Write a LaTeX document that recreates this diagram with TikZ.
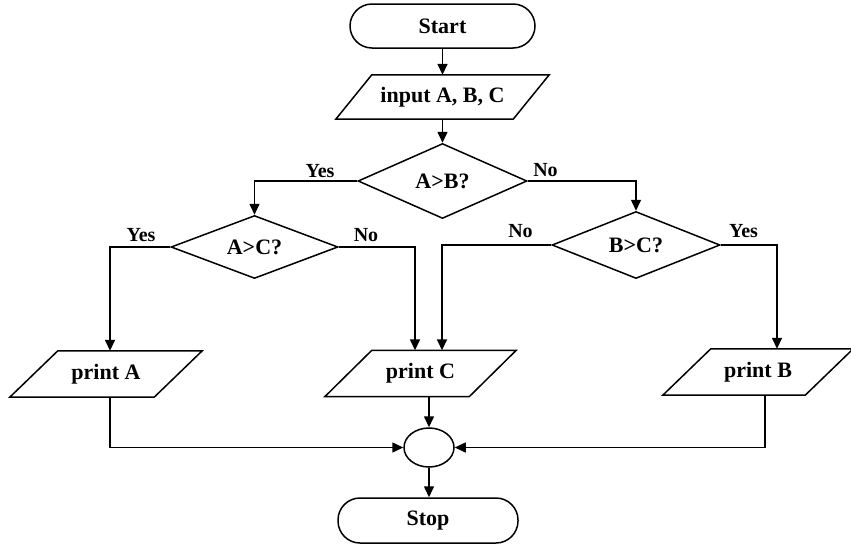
\documentclass[tikz,border=0pt]{standalone}
\usepackage{fontspec}
\setmainfont{Liberation Serif}
\usetikzlibrary{shapes.geometric, arrows.meta}

\begin{document}
\begin{tikzpicture}[x=1pt, y=-1pt,
  outline/.style={draw=black, line width=1.5pt},
  txt/.style={font=\bfseries\fontsize{22}{26}\selectfont, inner sep=0pt},
  term/.style={txt, outline, rectangle, rounded corners=22pt},
  decision/.style={txt, outline, diamond, aspect=2.2},
  io/.style={txt, rectangle},
  merge/.style={outline, ellipse, inner sep=0pt, minimum width=50pt, minimum height=39pt},
  lbl/.style={font=\bfseries\fontsize{20}{24}\selectfont, inner sep=0pt, anchor=base},
  flow/.style={line width=1.5pt, -{Triangle[length=11pt, width=10pt]}},
  link/.style={line width=1.5pt}
]
\useasboundingbox (0,0) rectangle (851,544);

% terminals
\node[term, minimum width=185pt, minimum height=44pt] (start) at (442.5,26) {Start};
\node[term, minimum width=180pt, minimum height=45pt] (stop) at (428,520.5) {Stop};

% input / output boxes (body only; slanted outline drawn below)
\node[io, minimum width=177pt, minimum height=44pt] (inp) at (442.5,97) {input A, B, C};
\node[io, minimum width=144pt, minimum height=46pt] (pA) at (106,374) {print A};
\node[io, minimum width=144pt, minimum height=46pt] (pC) at (420.5,373.5) {print C};
\node[io, minimum width=142pt, minimum height=46pt] (pB) at (758,372) {print B};
\foreach \n/\s in {inp/18, pA/24, pC/23.5, pB/24}
  \draw[outline] ([xshift=\s pt]\n.north west) -- ([xshift=\s pt]\n.north east)
    -- ([xshift=-\s pt]\n.south east) -- ([xshift=-\s pt]\n.south west) -- cycle;

% decisions
\node[decision, minimum width=169pt, minimum height=75pt] (AB) at (442.5,181) {A>B?};
\node[decision, minimum width=167pt, minimum height=63pt] (AC) at (254.5,247) {A>C?};
\node[decision, minimum width=168pt, minimum height=67pt] (BC) at (636,245) {B>C?};

% junction
\node[merge] (M) at (429,447.5) {};

% branch labels
\node[lbl] (lABy) at (320,177) {Yes};
\node[lbl] (lABn) at (545.5,176) {No};
\node[lbl] (lACy) at (141,241) {Yes};
\node[lbl] (lACn) at (366,241) {No};
\node[lbl] (lBCn) at (520.5,237) {No};
\node[lbl] (lBCy) at (743.5,237) {Yes};

% connectors
\draw[flow] (start.south) -- (inp.north);
\draw[flow] (inp.south) -- (AB.north);
\draw[flow] (AB.west) -| (AC.north);
\draw[flow] (AB.east) -| (BC.north);
\draw[flow] (AC.west) -| ([xshift=4pt]pA.north);
\draw[flow] (AC.east) -| ([xshift=-5.5pt]pC.north);
\draw[flow] (BC.west) -| ([xshift=21.5pt]pC.north);
\draw[flow] (BC.east) -| ([xshift=19pt]pB.north);
\draw[flow] (pC.south -| M.north) -- (M.north);
\draw[flow] ([xshift=4pt]pA.south) |- (M.west);
\draw[flow] ([xshift=7pt]pB.south) |- (M.east);
\draw[flow] (M.south) -- (M.south |- stop.north);
\end{tikzpicture}
\end{document}
